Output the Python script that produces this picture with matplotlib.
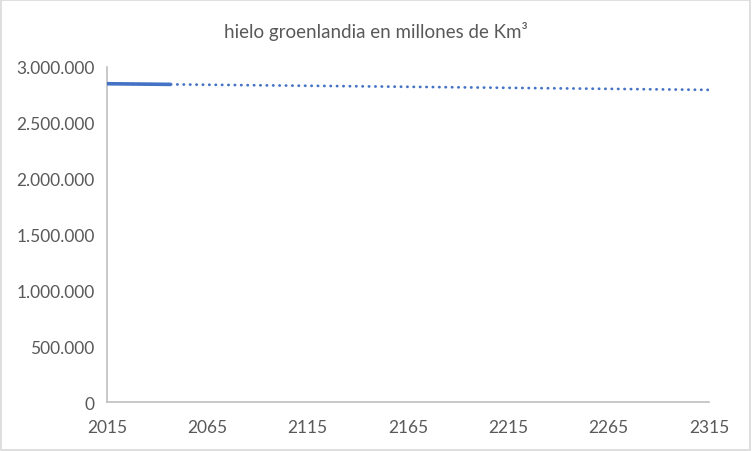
import numpy as np
import matplotlib.pyplot as plt
from matplotlib.patches import Rectangle

# datos (millones de km3 aprox.)
years = list(range(2015, 2048))
ice = [2850000, 2849800, 2849600, 2849450, 2849250, 2849050, 2848900, 2848700,
       2848500, 2848350, 2848150, 2847950, 2847800, 2847600, 2847400, 2847250,
       2847050, 2846850, 2846700, 2846500, 2846300, 2846150, 2845950, 2845750,
       2845600, 2845400, 2845200, 2845050, 2844850, 2844650, 2844500, 2844300,
       2844100]
xticks = [2015, 2065, 2115, 2165, 2215, 2265, 2315]
yticks = [0, 500000, 1000000, 1500000, 2000000, 2500000, 3000000]
title = "hielo groenlandia en millones de Km³"

plt.rcParams['font.family'] = ['Lato', 'DejaVu Sans']

fig = fig = plt.figure(figsize=(7.52, 4.52), dpi=100)
ax = fig.add_axes([0.1423, 0.1084, 0.8005, 0.7412])

blue = "#4472C4"
grey_txt = "#595959"

# linea de tendencia lineal
coef = np.polyfit(years, ice, 1)
tx = np.array([2015, 2315])
ax.plot(tx, np.polyval(coef, tx), color=blue, lw=2, ls=(0, (0.1, 2.2)),
        dash_capstyle="round", zorder=2)
ax.plot(years, ice, color=blue, lw=2.6, solid_capstyle="butt", zorder=3)

ax.set_xlim(2015, 2315)
ax.set_ylim(0, 3000000)
ax.set_xticks(xticks)
ax.set_yticks(yticks)
ax.set_yticklabels([f"{v:,}".replace(",", ".") for v in yticks])

for s in ["top", "right"]:
    ax.spines[s].set_visible(False)
for s in ["left", "bottom"]:
    ax.spines[s].set_color("#BFBFBF")
    ax.spines[s].set_linewidth(1.2)
ax.tick_params(length=0, labelsize=12.5, colors=grey_txt, pad=9)
ax.tick_params(axis="x", pad=12)

fig.text(0.5, 0.93, title, ha="center", va="center", fontsize=13.5, color=grey_txt)

fig.patches.append(Rectangle((0.001, 0.002), 0.997, 0.995, transform=fig.transFigure,
                             fill=False, edgecolor="#D9D9D9", lw=1.2))

fig.savefig("out.png", dpi=100)
